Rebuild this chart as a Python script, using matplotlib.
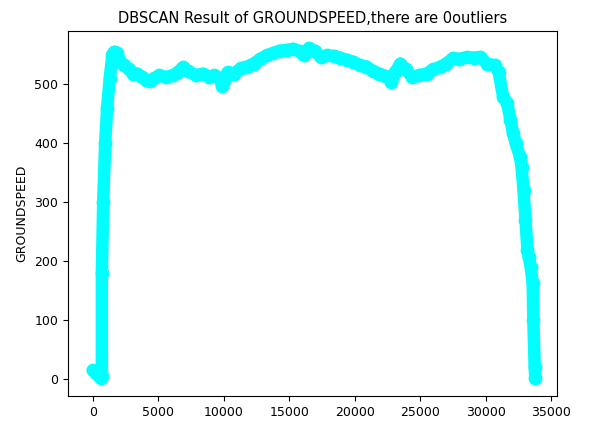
import numpy as np
import matplotlib
matplotlib.use("Agg")
import matplotlib.pyplot as plt

# groundspeed track
time_idx = [0, 300, 600, 700, 700, 800, 950, 1100, 1300, 1500, 1650, 1850,
            2100, 2400, 2800, 3100, 3400, 3800, 4100, 4400, 4700, 5100,
            5600, 6100, 6500, 6900, 7300, 7900, 8400, 8900, 9300, 9700,
            9900, 10000, 10300, 10800, 11300, 11800, 12300, 12800, 13300,
            13800, 14300, 14800, 15300, 15800, 16100, 16500, 17000, 17400,
            17900, 18400, 18900, 19400, 19900, 20400, 20900, 21400, 21900,
            22300, 22600, 22800, 23100, 23500, 23900, 24400, 24900, 25500,
            26000, 26500, 27000, 27500, 28000, 28600, 29100, 29600, 30100,
            30700, 31000, 31350, 31650, 31900, 32100, 32300, 32650, 32750,
            32900, 33050, 33200, 33300, 33450, 33600, 33650, 33750, 33800]
groundspeed = [15, 8, 2, 5, 180, 300, 400, 460, 510, 550, 555, 553,
               538, 532, 525, 518, 518, 512, 507, 505, 510, 515,
               512, 515, 520, 529, 522, 515, 518, 512, 515, 510,
               497, 505, 520, 518, 527, 530, 535, 543, 549,
               553, 557, 558, 560, 556, 549, 561, 556, 546,
               549, 548, 545, 541, 538, 532, 530, 522, 518,
               514, 512, 503, 520, 535, 525, 512, 515, 518,
               525, 529, 535, 544, 543, 546, 545, 546, 535,
               532, 520, 478, 468, 440, 417, 400, 376, 360,
               320, 270, 219, 207, 190, 163, 100, 20, 2]

fig = plt.figure(figsize=(5.95, 4.21), dpi=100)
ax = fig.add_axes([0.114, 0.059, 0.822, 0.867])

ax.plot(time_idx, groundspeed, color="cyan", linewidth=9,
        solid_capstyle="round", solid_joinstyle="round")
ax.scatter(time_idx, groundspeed, color="cyan", s=80, zorder=3)

ax.set_xlim(-1900, 35450)
ax.set_ylim(-29, 590)
ax.set_xticks(np.arange(0, 35001, 5000))
ax.set_yticks(np.arange(0, 501, 100))
ax.tick_params(labelsize=9)
ax.set_ylabel("GROUNDSPEED", fontsize=9)
ax.set_title("DBSCAN Result of GROUNDSPEED,there are 0outliers", fontsize=10.5)

fig.savefig("out.png", dpi=100)
